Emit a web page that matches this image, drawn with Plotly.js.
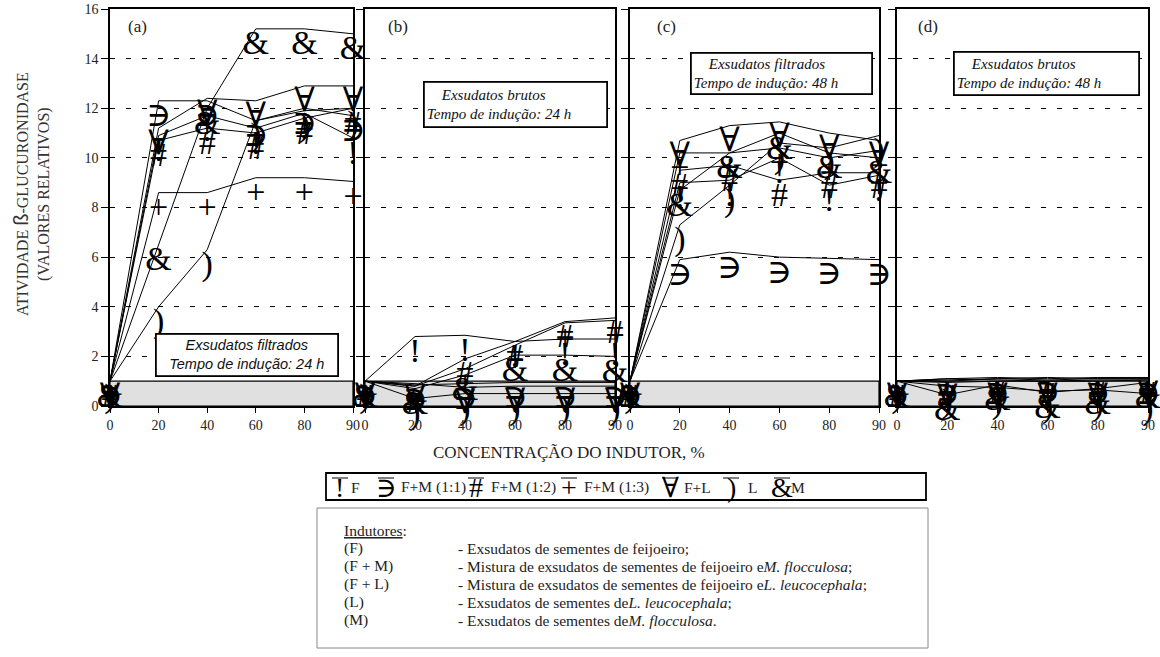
<!DOCTYPE html>
<html>
<head>
<meta charset="utf-8">
<script src="https://cdn.plot.ly/plotly-3.0.1.min.js"></script>
<style>html,body{margin:0;padding:0;background:#fff}#chart{width:1160px;height:657px}</style>
</head>
<body>
<div id="chart"></div>
<script>
// ---------- DATA ----------
const concentrations = ['0', '20', '40', '60', '80', '90'];
const seriesNames = ['F', 'F+M (1:1)', 'F+M (1:2)', 'F+M (1:3)', 'F+L', 'L', 'M'];
const seriesGlyphs = ['!', '\u220B', '#', '+', '\u2200', ')', '&'];
const baselineLevel = 1;

// (a) Exsudatos filtrados, 24 h
const a_F    = [1, 10.9, 11.7, 11.2, 11.8, 10.8];
const a_FM11 = [1, 12.3, 12.3, 11.5, 12.0, 11.7];
const a_FM12 = [1, 10.7, 11.2, 11.0, 11.6, 12.0];
const a_FM13 = [1, 8.6, 8.6, 9.2, 9.2, 9.05];
const a_FL   = [1, 11.2, 12.4, 12.3, 12.9, 12.9];
const a_L    = [1, 4.0, 6.3, 11.5, 11.9, 12.0];
const a_M    = [1, 6.5, 12.0, 15.2, 15.2, 15.0];

// (b) Exsudatos brutos, 24 h
const b_F    = [1, 2.8, 2.85, 2.6, 2.7, 2.7];
const b_FM11 = [1, 0.85, 0.9, 0.95, 0.95, 0.95];
const b_FM12 = [1, 0.8, 1.9, 2.6, 3.4, 3.55];
const b_FM13 = [1, 0.8, 1.5, 2.45, 3.35, 3.45];
const b_FL   = [1, 0.9, 0.75, 0.8, 0.8, 0.8];
const b_L    = [1, 0.3, 0.5, 0.5, 0.5, 0.5];
const b_M    = [1, 0.7, 1.25, 2.05, 2.05, 2.0];

// (c) Exsudatos filtrados, 48 h
const c_F    = [1, 9.0, 9.1, 10.0, 8.9, 9.3];
const c_FM11 = [1, 5.9, 6.2, 6.0, 5.95, 5.9];
const c_FM12 = [1, 9.5, 9.7, 9.1, 9.4, 9.4];
const c_FM13 = [1, 10.2, 10.2, 10.4, 10.0, 10.3];
const c_FL   = [1, 10.7, 11.3, 11.45, 11.0, 10.7];
const c_L    = [1, 7.3, 8.9, 10.6, 10.4, 10.9];
const c_M    = [1, 8.7, 10.2, 11.0, 10.2, 10.0];

// (d) Exsudatos brutos, 48 h
const d_F    = [1, 1.1, 1.15, 1.1, 1.15, 1.15];
const d_FM11 = [1, 1.05, 1.1, 1.15, 1.1, 1.1];
const d_FM12 = [1, 1.0, 1.1, 1.05, 1.1, 1.1];
const d_FM13 = [1, 1.1, 1.05, 1.0, 1.05, 1.05];
const d_FL   = [1, 0.95, 1.0, 1.0, 1.0, 1.05];
const d_L    = [1, 0.8, 0.75, 0.6, 0.65, 0.5];
const d_M    = [1, 0.45, 0.85, 0.55, 0.7, 0.95];

const panelLabels = ['(a)', '(b)', '(c)', '(d)'];
const panelNotes = [
  ['Exsudatos filtrados', 'Tempo de indução: 24 h'],
  ['Exsudatos brutos', 'Tempo de indução: 24 h'],
  ['Exsudatos filtrados', 'Tempo de indução: 48 h'],
  ['Exsudatos brutos', 'Tempo de indução: 48 h']
];
const yTicks = [0, 2, 4, 6, 8, 10, 12, 14, 16];
const yTitleLines = ['ATIVIDADE <span style="font-family:\'Liberation Sans\';font-size:20px">ß</span>-GLUCURONIDASE', '(VALORES RELATIVOS)'];
const xTitle = 'CONCENTRAÇÃO DO INDUTOR, %';
const inducerHeader = '<u>Indutores</u>:';
const inducerCodes = ['(F)', '(F + M)', '(F + L)', '(L)', '(M)'];
const inducerDescriptions = [
  '- Exsudatos de sementes de feijoeiro;',
  '- Mistura de exsudatos de sementes de feijoeiro e<i>M. flocculosa</i>;',
  '- Mistura de exsudatos de sementes de feijoeiro e<i>L. leucocephala</i>;',
  '- Exsudatos de sementes de<i>L. leucocephala</i>;',
  '- Exsudatos de sementes de<i>M. flocculosa</i>.'
];

const panels = [
  [a_F, a_FM11, a_FM12, a_FM13, a_FL, a_L, a_M],
  [b_F, b_FM11, b_FM12, b_FM13, b_FL, b_L, b_M],
  [c_F, c_FM11, c_FM12, c_FM13, c_FL, c_L, c_M],
  [d_F, d_FM11, d_FM12, d_FM13, d_FL, d_L, d_M]
];

// ---------- LAYOUT GEOMETRY (pixels) ----------
const W = 1160, H = 657;
const PX = v => v / W;
const PY = v => 1 - v / H;
const panelX = [[110, 353], [365, 615], [630, 879], [897, 1148]];
const plotTop = 9, plotBottom = 406;
const labelX = [126, 386, 655, 916];
const noteBoxes = [[155, 333, 338, 376], [423, 81, 607, 127], [690, 52, 872, 94], [953, 51, 1139, 95]];
const legendGlyphX = [340, 386, 476, 569, 670, 731, 782];
const legendLabelX = [349, 399, 489, 582, 682, 746, 789];

const SERIF = 'Liberation Serif, Times New Roman, DejaVu Serif, serif';
const SANS = 'Liberation Sans, Arial, DejaVu Sans, sans-serif';

const traces = [];
const layout = {
  width: W, height: H,
  margin: {l: 0, r: 0, t: 0, b: 0},
  paper_bgcolor: '#fff', plot_bgcolor: 'rgba(0,0,0,0)',
  showlegend: false,
  shapes: [], annotations: []
};

panels.forEach((series, p) => {
  const sx = p === 0 ? '' : String(p + 1);
  series.forEach((vals, s) => {
    traces.push({
      type: 'scatter', mode: 'lines+text',
      x: concentrations, y: vals,
      xaxis: 'x' + sx, yaxis: 'y' + sx,
      name: seriesNames[s],
      text: vals.map(() => seriesGlyphs[s]),
      textposition: 'bottom center',
      textfont: {family: SERIF, size: 34, color: '#000'},
      line: {color: '#000', width: 1},
      cliponaxis: false, hoverinfo: 'skip'
    });
  });
  layout['xaxis' + sx] = {
    type: 'category', range: [0, 5],
    domain: [PX(panelX[p][0]), PX(panelX[p][1])],
    anchor: 'y' + sx,
    showline: true, mirror: true, linecolor: '#000', linewidth: 1.8,
    ticks: 'outside', ticklen: 5, tickcolor: '#000', tickwidth: 1,
    tickfont: {family: SERIF, size: 14, color: '#222'},
    showgrid: false, zeroline: false, automargin: false, fixedrange: true
  };
  layout['yaxis' + sx] = {
    range: [0, 16],
    domain: [PY(plotBottom), PY(plotTop)],
    anchor: 'x' + sx,
    showline: true, mirror: true, linecolor: '#000', linewidth: 1.8,
    tickmode: 'array', tickvals: yTicks,
    ticks: 'outside', ticklen: 7, tickcolor: '#000', tickwidth: 1,
    showticklabels: p === 0,
    tickfont: {family: SERIF, size: 14, color: '#222'},
    showgrid: true, gridcolor: '#000', gridwidth: 1, griddash: '5px,11px',
    zeroline: false, automargin: false, fixedrange: true
  };
  // grey reference band (0 to baseline level)
  layout.shapes.push({
    type: 'rect', xref: 'x' + sx + ' domain', yref: 'y' + sx,
    x0: 0, x1: 1, y0: 0, y1: baselineLevel,
    fillcolor: '#e0e0e0', line: {color: '#000', width: 1.2}, layer: 'below'
  });
  // panel label
  layout.annotations.push({
    xref: 'paper', yref: 'paper', x: PX(labelX[p]), y: PY(27),
    xanchor: 'left', yanchor: 'middle', showarrow: false,
    text: panelLabels[p], font: {family: SERIF, size: 17, color: '#222'}
  });
  // condition note box
  const nb = noteBoxes[p];
  const isA = p === 0;
  const noteText = isA
    ? '<i>' + panelNotes[p][0] + '<br>' + panelNotes[p][1] + '</i>'
    : '<i>\u00a0\u00a0\u00a0\u00a0' + panelNotes[p][0] + '<br>' + panelNotes[p][1] + '</i>';
  layout.annotations.push({
    xref: 'paper', yref: 'paper', x: PX(nb[0]), y: PY(nb[1]),
    xanchor: 'left', yanchor: 'top', showarrow: false,
    width: nb[2] - nb[0] - 7, height: nb[3] - nb[1] - 7,
    align: isA ? 'center' : 'left', valign: 'middle',
    bgcolor: '#fff', bordercolor: '#000', borderwidth: 1.8, borderpad: 2,
    text: noteText,
    font: {family: isA ? SANS : SERIF, size: isA ? 14.5 : 15, color: '#111'}
  });
});

// axis titles
layout.annotations.push({
  xref: 'paper', yref: 'paper', x: PX(31), y: PY(194),
  xanchor: 'center', yanchor: 'middle', showarrow: false, textangle: -90,
  text: yTitleLines.join('<br>'),
  font: {family: SERIF, size: 16, color: '#333'}
});
layout.annotations.push({
  xref: 'paper', yref: 'paper', x: PX(569), y: PY(452),
  xanchor: 'center', yanchor: 'middle', showarrow: false,
  text: xTitle, font: {family: SERIF, size: 17, color: '#222'}
});

// custom legend
layout.shapes.push({
  type: 'rect', xref: 'paper', yref: 'paper',
  x0: PX(326), x1: PX(926), y0: PY(500), y1: PY(473),
  line: {color: '#000', width: 1.8}, fillcolor: '#fff', layer: 'above'
});
seriesNames.forEach((nm, s) => {
  layout.shapes.push({
    type: 'line', xref: 'paper', yref: 'paper',
    x0: PX(legendGlyphX[s] - 8), x1: PX(legendGlyphX[s] + 8),
    y0: PY(478), y1: PY(478), line: {color: '#000', width: 1}
  });
  layout.annotations.push({
    xref: 'paper', yref: 'paper', x: PX(legendGlyphX[s]), y: PY(470),
    xanchor: 'center', yanchor: 'top', showarrow: false,
    text: seriesGlyphs[s], font: {family: SERIF, size: 28, color: '#000'}
  });
  layout.annotations.push({
    xref: 'paper', yref: 'paper', x: PX(legendLabelX[s]), y: PY(487),
    xanchor: 'left', yanchor: 'middle', showarrow: false,
    text: nm, font: {family: SERIF, size: 15.5, color: '#222'}
  });
});

// inducer description box
layout.shapes.push({
  type: 'rect', xref: 'paper', yref: 'paper',
  x0: PX(317), x1: PX(928), y0: PY(648), y1: PY(508),
  line: {color: '#888', width: 1}, fillcolor: 'rgba(0,0,0,0)'
});
layout.annotations.push({
  xref: 'paper', yref: 'paper', x: PX(342), y: PY(530),
  xanchor: 'left', yanchor: 'middle', showarrow: false,
  text: inducerHeader, font: {family: SERIF, size: 15.5, color: '#222'}
});
inducerCodes.forEach((code, i) => {
  const yy = 548 + i * 18;
  layout.annotations.push({
    xref: 'paper', yref: 'paper', x: PX(342), y: PY(yy),
    xanchor: 'left', yanchor: 'middle', showarrow: false,
    text: code, font: {family: SERIF, size: 15.5, color: '#222'}
  });
  layout.annotations.push({
    xref: 'paper', yref: 'paper', x: PX(456), y: PY(yy),
    xanchor: 'left', yanchor: 'middle', showarrow: false,
    text: inducerDescriptions[i], font: {family: SERIF, size: 15.5, color: '#222'}
  });
});

Plotly.newPlot('chart', traces, layout, {staticPlot: true, displayModeBar: false});
</script>
</body>
</html>
